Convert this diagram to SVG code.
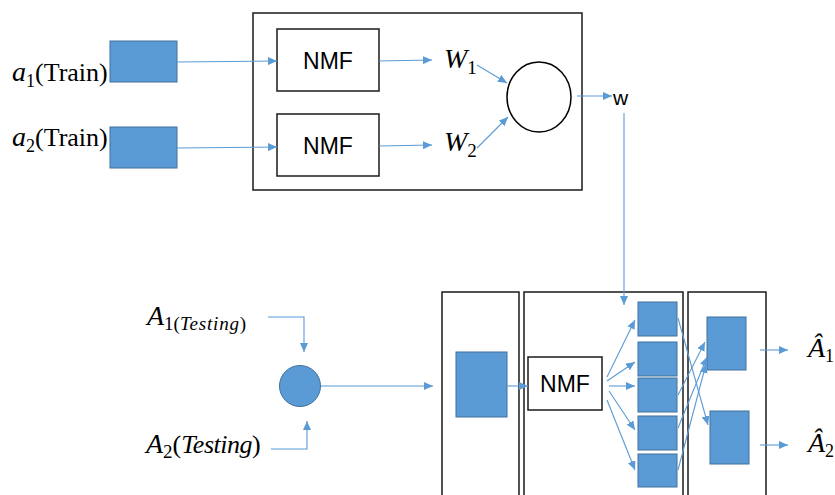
<svg xmlns="http://www.w3.org/2000/svg" width="835" height="495" viewBox="0 0 835 495">
<style>
.box{fill:#fff;stroke:#1a1a1a;stroke-width:1.5}
.blue{fill:#5B9BD5;stroke:#41719C;stroke-width:1}
.ln{fill:none;stroke:#5B9BD5;stroke-width:1.1}
.math{font-family:"Liberation Serif",serif;font-style:italic;fill:#000}
.up{font-style:normal}
.sans{font-family:"Liberation Sans",Arial,sans-serif;fill:#000}
</style>
<defs>
<marker id="ah" markerUnits="userSpaceOnUse" markerWidth="10" markerHeight="8" refX="9" refY="4" orient="auto">
<path d="M0,0 L9,4 L0,8 Z" fill="#5B9BD5"/>
</marker>
</defs>
<rect width="835" height="495" fill="#fff"/>

<g id="train-block">
<rect class="box" x="253" y="13" width="329" height="177"/>
</g>
<g id="nmf1"><rect class="box" x="277" y="29" width="102" height="62"/><text class="sans" x="328" y="69" font-size="23" text-anchor="middle">NMF</text></g>
<g id="nmf2"><rect class="box" x="277" y="114" width="102" height="62"/><text class="sans" x="328" y="154" font-size="23" text-anchor="middle">NMF</text></g>
<g id="a1"><rect class="blue" x="110" y="41" width="67" height="41"/><text class="math" x="12" y="81" font-size="28">a<tspan class="up" font-size="18" dy="6">1</tspan><tspan class="up" font-size="26" dy="-6">(Train)</tspan></text></g>
<g id="a2"><rect class="blue" x="110" y="127" width="67" height="41"/><text class="math" x="12" y="146" font-size="28">a<tspan class="up" font-size="18" dy="6">2</tspan><tspan class="up" font-size="26" dy="-6">(Train)</tspan></text></g>
<g id="W1"><text class="math" x="444" y="68" font-size="28">W<tspan class="up" font-size="19" dy="6">1</tspan></text></g>
<g id="W2"><text class="math" x="444" y="151" font-size="28">W<tspan class="up" font-size="19" dy="6">2</tspan></text></g>
<g id="combine"><ellipse cx="539" cy="97" rx="32" ry="35" fill="#fff" stroke="#000" stroke-width="1.5"/></g>
<g id="w"><text class="sans" x="613" y="105" font-size="21">w</text></g>

<g id="A1"><text class="math" x="147" y="325" font-size="28">A<tspan class="up" font-size="19" dy="5">1</tspan><tspan class="up" font-size="19">(</tspan><tspan font-size="19" letter-spacing="0.8">Testing</tspan><tspan class="up" font-size="19">)</tspan></text></g>
<g id="A2"><text class="math" x="146" y="453" font-size="28">A<tspan class="up" font-size="19" dy="5">2</tspan><tspan class="up" font-size="26" dy="-5">(</tspan><tspan font-size="26" letter-spacing="-0.5">Testing</tspan><tspan class="up" font-size="26">)</tspan></text></g>
<g id="mix"><circle cx="300" cy="386" r="20.5" class="blue"/></g>

<g id="box-input"><rect class="box" x="442" y="292" width="77" height="210"/><rect class="blue" x="456" y="352" width="51" height="65"/></g>
<g id="box-nmf"><rect class="box" x="524" y="292" width="159" height="210"/>
<rect class="box" x="528" y="357" width="74" height="53"/><text class="sans" x="565" y="392" font-size="23" text-anchor="middle">NMF</text>
<rect class="blue" x="638" y="302" width="39" height="34"/>
<rect class="blue" x="638" y="342" width="39" height="34"/>
<rect class="blue" x="638" y="378" width="39" height="34"/>
<rect class="blue" x="638" y="416" width="39" height="34"/>
<rect class="blue" x="638" y="454" width="39" height="33"/>
</g>
<g id="box-out"><rect class="box" x="688" y="292" width="78" height="210"/>
<rect class="blue" x="707" y="317" width="39" height="53"/>
<rect class="blue" x="710" y="411" width="39" height="53"/>
</g>
<g id="Ahat1"><text class="math" x="808" y="357" font-size="28">Â<tspan class="up" font-size="18" dy="5">1</tspan></text></g>
<g id="Ahat2"><text class="math" x="808" y="452" font-size="28">Â<tspan class="up" font-size="18" dy="5">2</tspan></text></g>

<g id="connectors">
<path class="ln" d="M177,62 L277,61" marker-end="url(#ah)"/>
<path class="ln" d="M177,148 L277,147" marker-end="url(#ah)"/>
<path class="ln" d="M379,61 L432,60" marker-end="url(#ah)"/>
<path class="ln" d="M379,146 L432,145" marker-end="url(#ah)"/>
<path class="ln" d="M477,65 L507,83" marker-end="url(#ah)"/>
<path class="ln" d="M477,148 L508,117" marker-end="url(#ah)"/>
<path class="ln" d="M577,96 L612,96" marker-end="url(#ah)"/>
<path class="ln" d="M624,113 L624,305" marker-end="url(#ah)"/>
<path class="ln" d="M268,317 L304,317 L304,352" marker-end="url(#ah)"/>
<path class="ln" d="M271,449 L307,449 L307,421" marker-end="url(#ah)"/>
<path class="ln" d="M321,386 L433,386" marker-end="url(#ah)"/>
<path class="ln" d="M507,386 L528,386" marker-end="url(#ah)"/>
<path class="ln" d="M607,377 L635,320" marker-end="url(#ah)"/>
<path class="ln" d="M607,381 L635,362" marker-end="url(#ah)"/>
<path class="ln" d="M609,386 L635,386" marker-end="url(#ah)"/>
<path class="ln" d="M609,391 L635,430" marker-end="url(#ah)"/>
<path class="ln" d="M607,400 L635,470" marker-end="url(#ah)"/>
<path class="ln" d="M678,318 L708,425" marker-end="url(#ah)"/>
<path class="ln" d="M678,395 L705,342" marker-end="url(#ah)"/>
<path class="ln" d="M678,428 L707,357" marker-end="url(#ah)"/>
<path class="ln" d="M678,470 L706,364" marker-end="url(#ah)"/>
<path class="ln" d="M760,350 L788,350" marker-end="url(#ah)"/>
<path class="ln" d="M760,445 L788,445" marker-end="url(#ah)"/>
</g>
</svg>
